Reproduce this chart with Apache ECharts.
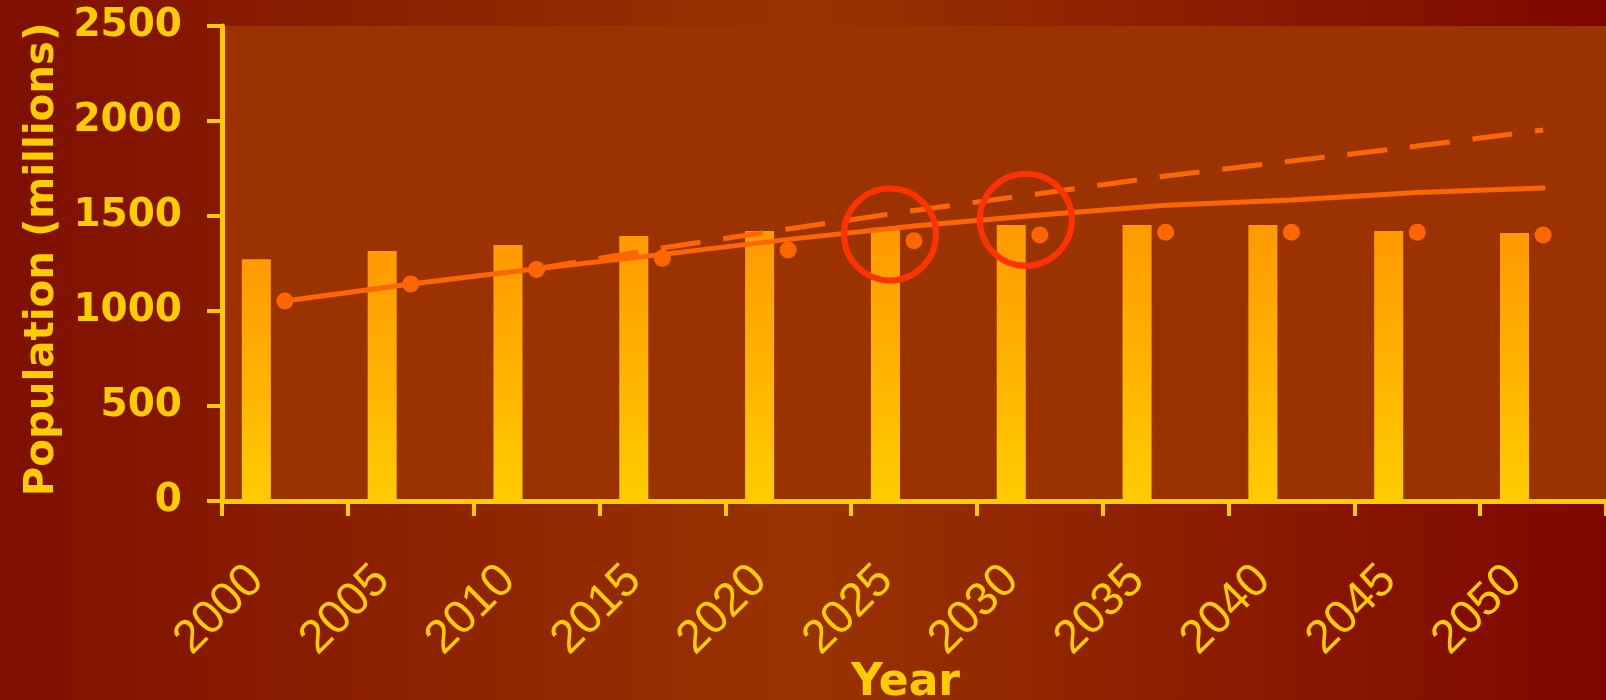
<!DOCTYPE html>
<html>
<head>
<meta charset="utf-8">
<title>Population</title>
<script src="https://cdn.jsdelivr.net/npm/echarts@6/dist/echarts.min.js"></script>
<style>
  html, body { margin: 0; padding: 0; background: #8a1f00; }
  #chart { width: 1606px; height: 700px; }
</style>
</head>
<body>
<div id="chart"></div>
<script>
// years on the x axis
const years = ['2000', '2005', '2010', '2015', '2020', '2025', '2030', '2035', '2040', '2045', '2050'];
// bars (millions)
const barValues = [1272, 1316, 1347, 1395, 1421, 1438, 1453, 1453, 1453, 1421, 1411];
// round markers
const dotValues = [1053, 1142, 1219, 1277, 1321, 1370, 1400, 1414, 1414, 1414, 1400];
// solid projection line
const solidValues = [1053, 1142, 1222, 1298, 1377, 1447, 1505, 1557, 1584, 1624, 1647];
// dashed projection line (starts 2010)
const dashedValues = ['-', '-', 1222, 1332, 1432, 1529, 1618, 1711, 1789, 1868, 1953];
// highlighted points (red rings)
const ringYears = ['2025', '2030'];
const ringValues = [1403, 1480];
const yTicks = [0, 500, 1000, 1500, 2000, 2500];

const yellow = '#ffcc00';
const orange = '#ff6600';

const chart = echarts.init(document.getElementById('chart'));

const option = {
  backgroundColor: new echarts.graphic.LinearGradient(0, 0, 1, 0, [
    { offset: 0, color: '#7f0f00' },
    { offset: 0.5, color: '#993300' },
    { offset: 1, color: '#7e0600' }
  ]),
  animation: false,
  grid: [
    {
      left: 222, right: 0, top: 26, bottom: 199, outerBoundsMode: 'none',
      show: true, backgroundColor: '#9a3300', borderWidth: 0
    },
    // label-only grid, shifted so labels sit under the bars
    { left: 193.5, right: 28.5, top: 26, bottom: 199, outerBoundsMode: 'none' }
  ],
  xAxis: [
    {
      type: 'category',
      gridIndex: 0,
      data: years,
      axisLine: { lineStyle: { color: yellow, width: 5 } },
      axisTick: { show: true, length: 15, lineStyle: { color: yellow, width: 4 } },
      axisLabel: { show: false }
    },
    {
      type: 'category',
      gridIndex: 1,
      data: years,
      axisLine: { show: false },
      axisTick: { show: false },
      axisLabel: {
        rotate: 45,
        margin: 72,
        color: yellow,
        fontFamily: 'Liberation Sans',
        fontSize: 47
      },
      name: 'Year',
      nameLocation: 'middle',
      nameGap: 161,
      nameMoveOverlap: false,
      nameTextStyle: {
        color: yellow, fontFamily: 'DejaVu Sans', fontWeight: 'bold', fontSize: 44,
        padding: [0, 0, 0, 40]
      }
    }
  ],
  yAxis: [
    {
      type: 'value',
      gridIndex: 0,
      min: yTicks[0],
      max: yTicks[yTicks.length - 1],
      interval: 500,
      splitLine: { show: false },
      axisLine: { show: true, lineStyle: { color: yellow, width: 5 } },
      axisTick: { show: true, length: 15, lineStyle: { color: yellow, width: 4 } },
      axisLabel: {
        margin: 40,
        color: yellow,
        fontFamily: 'DejaVu Sans',
        fontWeight: 'bold',
        fontSize: 39,
        formatter: v => String(v)
      },
      name: 'Population (millions)',
      nameLocation: 'middle',
      nameGap: 159,
      nameMoveOverlap: false,
      nameTextStyle: {
        color: yellow, fontFamily: 'DejaVu Sans', fontWeight: 'bold', fontSize: 40.3,
        padding: [0, 0, 0, 8]
      }
    },
    { type: 'value', gridIndex: 1, show: false, min: 0, max: 2500 }
  ],
  series: [
    {
      type: 'bar',
      data: barValues,
      barWidth: 29,
      barGap: '97%',
      itemStyle: {
        color: new echarts.graphic.LinearGradient(0, 0, 0, 1, [
          { offset: 0, color: '#ff9900' },
          { offset: 1, color: '#ffcc00' }
        ])
      },
      z: 2
    },
    {
      // empty slot beside each bar
      type: 'bar',
      data: years.map(() => '-'),
      barWidth: 29,
      barGap: '97%'
    },
    {
      type: 'line',
      data: solidValues,
      symbol: 'none',
      lineStyle: { color: orange, width: 5, cap: 'round' },
      z: 3
    },
    {
      type: 'line',
      data: dashedValues,
      symbol: 'none',
      lineStyle: { color: orange, width: 5, type: [40, 23] },
      z: 3
    },
    {
      type: 'scatter',
      data: dotValues,
      symbolSize: 17,
      itemStyle: { color: orange, opacity: 1 },
      z: 4
    },
    {
      type: 'scatter',
      data: [
        { value: [ringYears[0], ringValues[0]], symbolOffset: [-24, 0] },
        { value: [ringYears[1], ringValues[1]], symbolOffset: [-14, 0] }
      ],
      symbol: 'circle',
      symbolSize: 92,
      itemStyle: { color: 'rgba(0,0,0,0)', borderColor: '#ff3300', borderWidth: 6, opacity: 1 },
      z: 5
    }
  ]
};

chart.setOption(option);
</script>
</body>
</html>
